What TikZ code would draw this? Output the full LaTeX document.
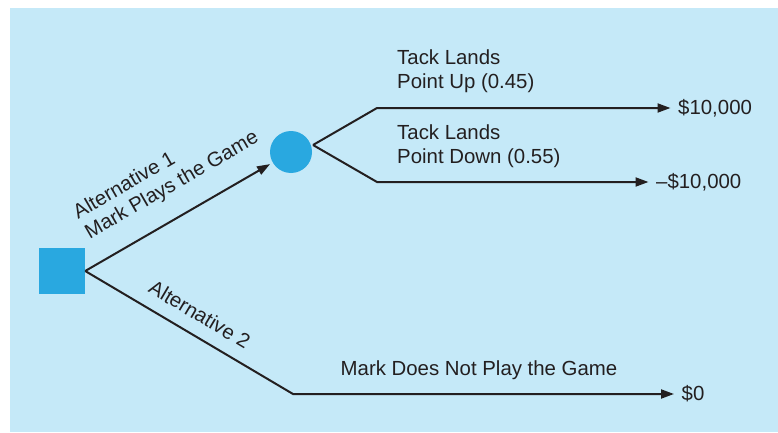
\documentclass[tikz,border=0pt]{standalone}
\usepackage{fontspec}
\setmainfont{Liberation Sans}
\usepackage{xcolor}
\usetikzlibrary{arrows.meta, positioning, shapes.geometric}
\definecolor{bgblue}{RGB}{197,233,248}
\definecolor{nodeblue}{RGB}{41,168,224}
\definecolor{ink}{RGB}{35,31,32}

\begin{document}
\begin{tikzpicture}[
  x=1pt, y=1pt,
  font=\fontsize{20.4}{23.5}\selectfont,
  text=ink,
  decision/.style={rectangle, fill=nodeblue, minimum size=46pt, inner sep=0pt},
  chance/.style={circle, fill=nodeblue, minimum size=42pt, inner sep=0pt},
  branch/.style={draw=ink, line width=2pt},
  arrow/.style={branch, -{Triangle[length=13pt, width=9pt]}},
  lbl/.style={inner sep=0pt, align=left},
  payoff/.style={anchor=west, inner sep=0pt, inner xsep=7.5pt}
]
  \useasboundingbox (0,0) rectangle (778,432);
  \fill[bgblue] (10,0) rectangle (778,424);

  % decision and chance nodes
  \node[decision] (sq) at (62,161) {};
  \node[chance] (circ) at (291,280) {};
  \coordinate (fork) at (313,287);
  \coordinate (upbend) at (377,324);
  \coordinate (downbend) at (377,250);
  \coordinate (nobend) at (293,38);

  % outcomes
  \node[payoff] (win) at (670.5,324) {\$10,000};
  \node[payoff] (lose) at (648.5,250) {\textendash\$10,000};
  \node[payoff] (zero) at (674,38) {\$0};

  \node[lbl, anchor=north west] (up) at (397,382) {Tack Lands\\Point Up (0.45)};
  \node[lbl, anchor=north west] (down) at (397,307) {Tack Lands\\Point Down (0.55)};
  \node[lbl, anchor=base] (nogame) at (479,57) {Mark Does Not Play the Game};

  \draw[arrow, shorten >=3pt] (sq.east) -- node[lbl, sloped, above=19.7pt, pos=0.545] (alt1) {Alternative 1\\Mark Plays the Game} (circ);
  \draw[arrow] (fork) -- (upbend) -- (win.west);
  \draw[arrow] (fork) -- (downbend) -- (lose.west);
  \draw[arrow] (sq.east) -- node[lbl, sloped, above=12.5pt, pos=0.5] (alt2) {Alternative 2} (nobend) -- (zero.west);
\end{tikzpicture}
\end{document}
